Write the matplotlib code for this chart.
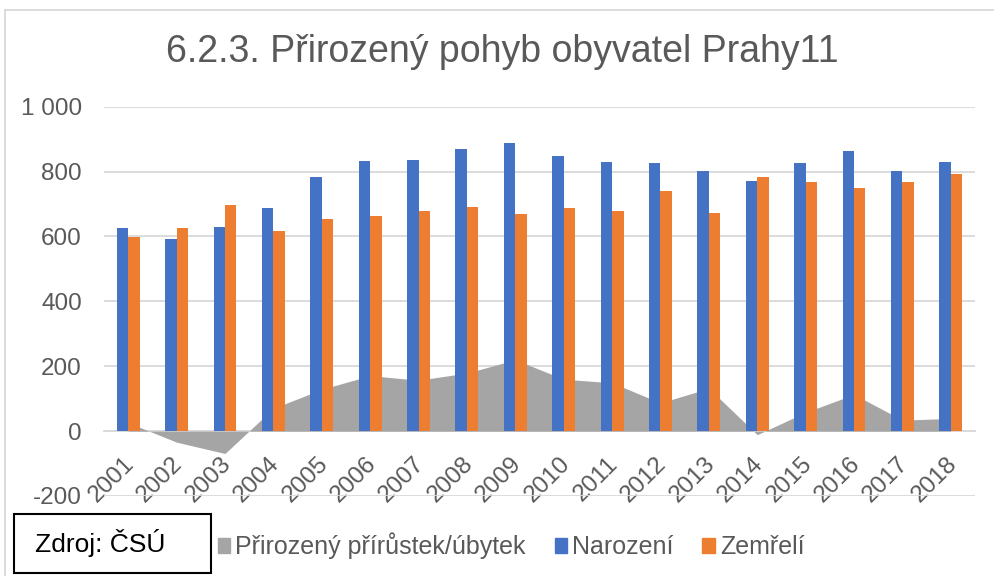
import numpy as np
import matplotlib
matplotlib.use("Agg")
import matplotlib.pyplot as plt
import matplotlib.transforms as mtransforms
from matplotlib.patches import Patch, Rectangle
from matplotlib.lines import Line2D

plt.rcParams['font.family'] = ['Liberation Sans', 'DejaVu Sans']

years = ['2001', '2002', '2003', '2004', '2005', '2006', '2007', '2008', '2009',
         '2010', '2011', '2012', '2013', '2014', '2015', '2016', '2017', '2018']
narozeni = [625, 591, 629, 688, 784, 834, 837, 871, 889,
            848, 829, 826, 803, 771, 826, 863, 801, 831]
zemreli = [599, 625, 698, 618, 655, 663, 680, 692, 669,
           688, 680, 739, 671, 782, 768, 750, 767, 792]
prirustek = [n - z for n, z in zip(narozeni, zemreli)]

BLUE = '#4472C4'
ORANGE = '#ED7D31'
GRAY = '#A5A5A5'
TEXT = '#595959'
GRID = '#D9D9D9'

W, H = 995, 576
fig = plt.figure(figsize=(W / 100, H / 100), dpi=100)
ax = fig.add_axes([104 / W, 1 - 496 / H, (975 - 104) / W, (496 - 106.7) / H])

x = np.arange(len(years))
bw = 0.237

ax.fill_between(x, prirustek, 0, color=GRAY, lw=0, zorder=1)
ax.bar(x - bw / 2, narozeni, bw, color=BLUE, zorder=2)
ax.bar(x + bw / 2, zemreli, bw, color=ORANGE, zorder=2)

ax.set_xlim(-0.5, len(years) - 0.5)
ax.set_ylim(-200, 1000)
ax.set_yticks([-200, 0, 200, 400, 600, 800, 1000])
ax.set_yticklabels(['-200', '0', '200', '400', '600', '800', '1 000'])
ax.yaxis.grid(True, color=GRID, lw=1.3, zorder=0)
ax.set_axisbelow(True)

for s in ['top', 'right', 'left']:
    ax.spines[s].set_visible(False)
ax.spines['bottom'].set_position(('data', 0))
ax.spines['bottom'].set_color(GRID)
ax.spines['bottom'].set_linewidth(1.3)
ax.spines['bottom'].set_zorder(0.5)

ax.set_xticks(x)
ax.set_xticklabels(years, rotation=45, ha='right', va='top', rotation_mode='anchor')
ax.tick_params(axis='x', length=0, pad=14, labelsize=17.5, labelcolor=TEXT)
ax.tick_params(axis='y', length=0, pad=16, labelsize=17.5, labelcolor=TEXT)
shift = mtransforms.ScaledTranslation(-5 / 100, -2 / 100, fig.dpi_scale_trans)
for lbl in ax.get_xticklabels():
    lbl.set_transform(lbl.get_transform() + shift)

fig.text(0.505, 1 - 52 / H, '6.2.3. Přirozený pohyb obyvatel Prahy11',
         ha='center', va='center', fontsize=27, color=TEXT)

# outer chart border
fig.add_artist(Line2D([5 / W, 1], [1 - 10 / H, 1 - 10 / H], color=GRID, lw=1.3))
fig.add_artist(Line2D([5 / W, 5 / W], [0, 1 - 10 / H], color=GRID, lw=1.3))

# source box
fig.add_artist(Rectangle((14 / W, 1 - 573 / H), (211 - 14) / W, (573 - 514) / H,
                         transform=fig.transFigure, fill=True, facecolor='white',
                         edgecolor='black', lw=1.5))
fig.text(100 / W, 1 - 543 / H, 'Zdroj: ČSÚ', ha='center', va='center',
         fontsize=19, color='black')

handles = [Patch(color=GRAY), Patch(color=BLUE), Patch(color=ORANGE)]
fig.legend(handles, ['Přirozený přírůstek/úbytek', 'Narození', 'Zemřelí'],
           loc='center left', bbox_to_anchor=(218 / W, 1 - 546 / H), ncol=3,
           frameon=False, fontsize=18, labelcolor=TEXT,
           handlelength=0.5, handleheight=0.5, handletextpad=0.2,
           columnspacing=1.15, borderaxespad=0, borderpad=0)

fig.savefig('out.png', dpi=100)
